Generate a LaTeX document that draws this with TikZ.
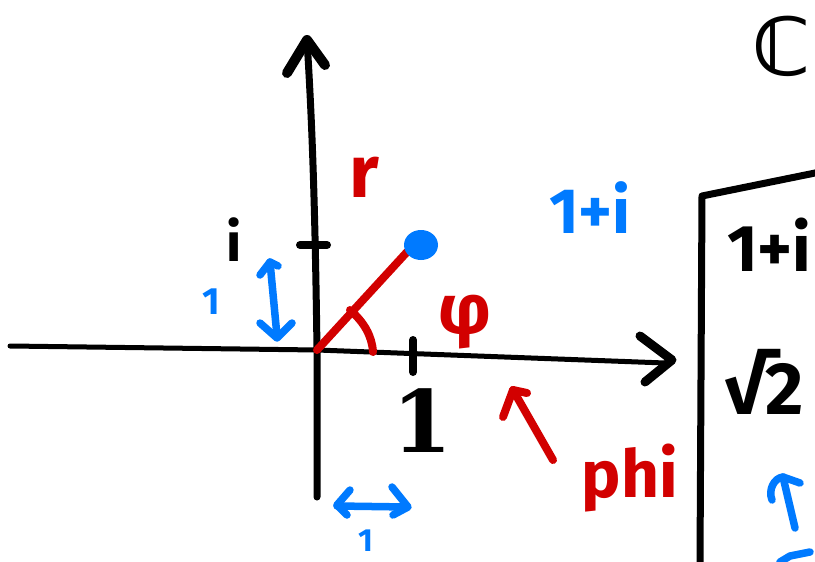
\documentclass[tikz,border=0pt]{standalone}
\usepackage{fontspec}
\setmainfont{Fira Sans}
\newfontfamily\symfont{DejaVu Sans}
\newfontfamily\serifb{DejaVu Serif}
\definecolor{pblue}{RGB}{0,122,255}
\definecolor{pred}{RGB}{210,0,0}
\newcommand\fsz[1]{\fontsize{#1}{#1}\selectfont}
\begin{document}
\begin{tikzpicture}[x=1pt,y=-1pt,
  ink/.style={line width=6pt,line cap=round,line join=round},
  axis/.style={ink,black},
  redink/.style={ink,pred,line width=8pt},
  blueink/.style={ink,pblue,line width=7.5pt},
  lbl/.style={inner sep=0pt,font=\bfseries}]
\useasboundingbox (0,0) rectangle (815,562);
\clip (0,0) rectangle (815,562);
% axes
\coordinate (O) at (317,350);
\coordinate (xl) at (10,346);
\coordinate (xr) at (665,363);
\coordinate (yb) at (317,497);
\coordinate (yt) at (307,40);
\draw[axis,line width=5pt] (xl) -- (O) -- (xr);
\draw[axis,line width=7pt] (yb) -- (O) .. controls (315,200) and (312,120) .. (yt);
\coordinate (xt) at (672,360);
\draw[axis,line width=9pt] (640,336) -- (xt) -- (645,382);
\draw[axis,line width=10pt] (287,73) -- (yt) -- (325,65);
% ticks
\draw[axis,line width=8pt] (300,245) -- (327,245);
\draw[axis,line width=8pt] (413,340) -- (413,372);
\node[lbl,font=\bfseries\fsz{54}] (ilabel) at (234,240) {i};
\node[inner sep=0pt,font=\serifb\bfseries\fsz{86}] (one) at (422,421) {1};
% point, radius, angle
\coordinate (P) at (421,245);
\draw[redink] (O) -- (407,252);
\fill[pblue] (P) ellipse (17pt and 15pt);
\draw[redink] (350,310) .. controls (364,322) and (372,336) .. (373,352);
\node[lbl,text=pred,font=\bfseries\fsz{74}] (r) at (364,177) {r};
\node[lbl,text=pred,font=\bfseries\fsz{70}] (phi) at (465,322) {φ};
\node[lbl,text=pblue,font=\bfseries\fsz{64}] (z) at (590,208) {1+i};
% blue unit arrows
\draw[blueink] (270,262) -- (277,336);
\draw[blueink] (260,275) -- (270,262) -- (278,266);
\draw[blueink] (260,323) -- (277,338) -- (292,323);
\node[lbl,text=pblue,font=\bfseries\fsz{38}] (vone) at (211,302) {1};
\draw[blueink] (337,506) -- (407,507);
\draw[blueink] (350,490) -- (337,505) -- (347,515);
\draw[blueink] (392,487) -- (408,507) -- (393,515);
\node[lbl,text=pblue,font=\bfseries\fsz{32},anchor=base] (hone) at (366,551) {1};
% red annotation arrow
\coordinate (ra) at (513,390);
\draw[redink] (553,460) -- (ra);
\draw[redink] (503,417) -- (ra) -- (527,393);
\node[lbl,text=pred,font=\bfseries\fsz{66}] (phiword) at (630,478) {phi};
% C
\node[inner sep=0pt,font=\symfont\bfseries\fsz{80}] (C) at (782,46) {ℂ};
% box
\coordinate (b1) at (702,196);
\draw[axis,line width=7pt] (700,562) -- (b1) -- (820,172);
\node[lbl,anchor=west,font=\bfseries\fsz{66}] (bz) at (727,245) {1+i};
\node[lbl,anchor=west,font=\bfseries\fsz{74}] (br) at (724,382) {√2};
\coordinate (ua) at (783,477);
\draw[blueink] (795,528) -- (ua);
\draw[blueink] (772,500) .. controls (768,490) and (774,478) .. (ua) -- (800,483);
\draw[blueink] (780,562) -- (790,556) -- (810,552);
\end{tikzpicture}
\end{document}
